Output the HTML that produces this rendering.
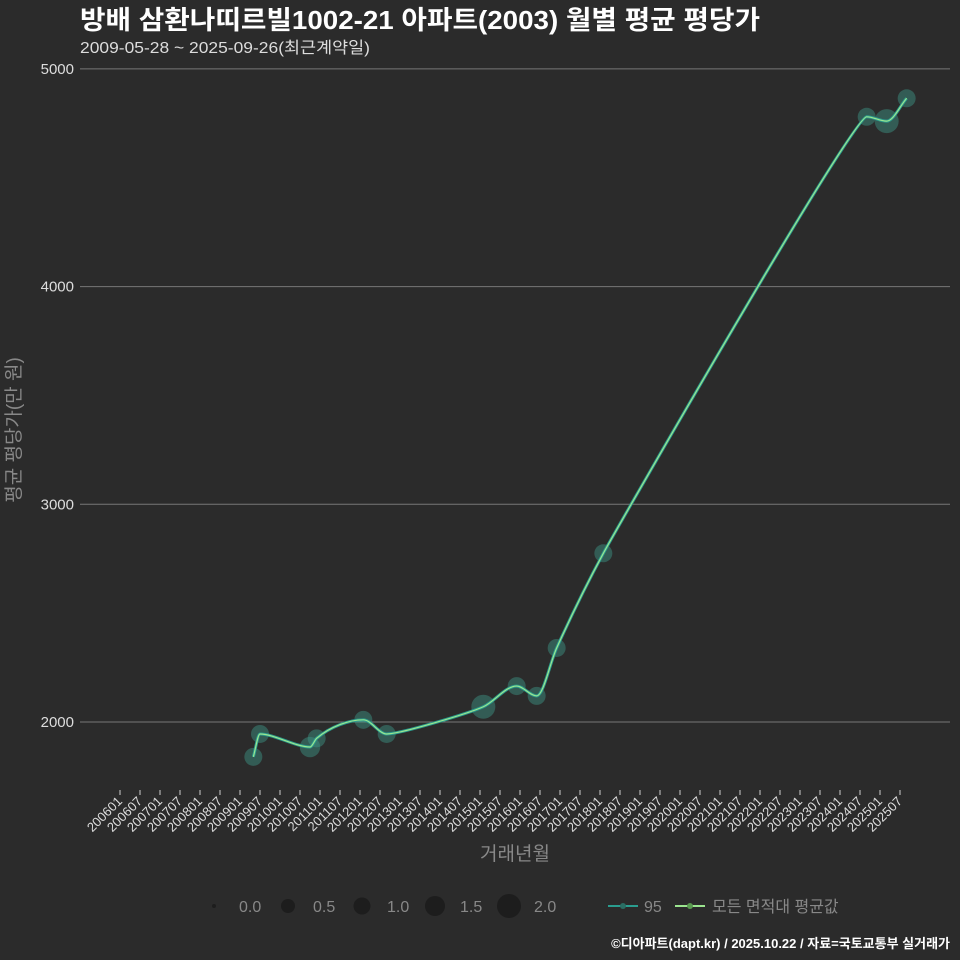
<!DOCTYPE html>
<html><head><meta charset="utf-8">
<style>
body{margin:0;background:#2b2b2b;}
svg{display:block;font-family:"Liberation Sans","Noto Sans CJK KR",sans-serif;}
</style></head>
<body>
<svg id="chart" width="960" height="960" viewBox="0 0 960 960">
<rect width="960" height="960" fill="#2b2b2b"/>
<text x="80" y="29" fill="#ffffff" font-size="26" font-weight="bold" textLength="680" lengthAdjust="spacingAndGlyphs">방배 삼환나띠르빌1002-21 아파트(2003) 월별 평균 평당가</text>
<text x="80" y="53" fill="#dddddd" font-size="16" textLength="290" lengthAdjust="spacingAndGlyphs">2009-05-28 ~ 2025-09-26(최근계약일)</text>
<g id="grid"></g>
<g id="xaxis"></g>
<g id="marks"></g>
<text x="20" y="430" fill="#888" font-size="19" transform="rotate(-90 20 430)" text-anchor="middle">평균 평당가(만 원)</text>
<text x="515" y="860" fill="#888" font-size="19" text-anchor="middle">거래년월</text>
<g id="legend"></g>
<text x="950" y="948" fill="#ffffff" font-size="13" font-weight="bold" text-anchor="end">©디아파트(dapt.kr) / 2025.10.22 / 자료=국토교통부 실거래가</text>
</svg>
<script>
const months = [40, 42, 57, 59, 73, 80, 109, 119, 125, 131, 145, 224, 230, 236];
const prices = [1840, 1945, 1885, 1925, 2010, 1945, 2070, 2165, 2120, 2340, 2775, 4780, 4760, 4865];
const counts = [1.0, 1.0, 1.2, 1.0, 1.0, 1.0, 1.5, 1.0, 1.0, 1.0, 1.0, 1.0, 1.5, 1.0];
const yTicks = [2000, 3000, 4000, 5000];
const xTickLabels = [];
for (let y = 2006; y <= 2025; y++) { xTickLabels.push(y + "01"); xTickLabels.push(y + "07"); }

const NS = "http://www.w3.org/2000/svg";
function X(m){ return 120 + m * 20 / 6; }
function Y(v){ return 722 - (v - 2000) * 217.7 / 1000; }
function R(c){ return 3 + c * 6; }
function mk(tag, attrs, parent){ const e = document.createElementNS(NS, tag); for (const k in attrs) e.setAttribute(k, attrs[k]); parent.appendChild(e); return e; }

const grid = document.getElementById("grid");
yTicks.forEach(v => {
  const l = mk("line", {x1:80, x2:950, y1:Y(v), y2:Y(v), stroke:"#777", "stroke-width":1}, grid);
  
  
  const t = mk("text", {x:74, y:Y(v)+5, fill:"#ddd", "font-size":15, "text-anchor":"end"}, grid);
  t.textContent = v;
  
  
});

const xa = document.getElementById("xaxis");
xTickLabels.forEach((s, i) => {
  const m = (parseInt(s.slice(0,4)) - 2006) * 12 + parseInt(s.slice(4)) - 1;
  const x = X(m);
  const tk = mk("line", {x1:x, x2:x, y1:790, y2:795, stroke:"#ccc", "stroke-width":1}, xa);
  
  
  const t = mk("text", {x:x+3, y:802, fill:"#ddd", "font-size":13, "text-anchor":"end", transform:`rotate(-45 ${x+3} 802)`}, xa);
  t.textContent = s;
  
  
});

const marks = document.getElementById("marks");
months.forEach((m, i) => {
  const c = mk("circle", {cx:X(m), cy:Y(prices[i]), r:R(counts[i]), fill:"#3f9a8a", "fill-opacity":0.45}, marks);
  
  
});
// monotone cubic with capped control-point distance
const pts = months.map((m, i) => [X(m), Y(prices[i])]);
const n = pts.length;
const dx = [], sl = [];
for (let i = 0; i < n-1; i++) { dx.push(pts[i+1][0]-pts[i][0]); sl.push((pts[i+1][1]-pts[i][1])/dx[i]); }
const tg = [sl[0]];
for (let i = 1; i < n-1; i++) tg.push(sl[i-1]*sl[i] <= 0 ? 0 : (sl[i-1]+sl[i])/2);
tg.push(sl[n-2]);
for (let i = 0; i < n-1; i++) {
  if (sl[i] === 0) { tg[i] = 0; tg[i+1] = 0; continue; }
  const a = tg[i]/sl[i], b = tg[i+1]/sl[i], h = a*a + b*b;
  if (h > 9) { const t = 3/Math.sqrt(h); tg[i] = t*a*sl[i]; tg[i+1] = t*b*sl[i]; }
}
let d = `M${pts[0][0]},${pts[0][1]}`;
for (let i = 0; i < n-1; i++) {
  const h = Math.min(dx[i]/3, 14);
  d += ` C${pts[i][0]+h},${pts[i][1]+tg[i]*h} ${pts[i+1][0]-h},${pts[i+1][1]-tg[i+1]*h} ${pts[i+1][0]},${pts[i+1][1]}`;
}
const l1 = mk("path", {d, fill:"none", stroke:"#2a9d8f", "stroke-width":3}, marks);


const l2 = mk("path", {d, fill:"none", stroke:"#9be58f", "stroke-width":1.2}, marks);



const lg = document.getElementById("legend");
const sizeVals = [0.0, 0.5, 1.0, 1.5, 2.0];
const sizeX = [214, 288, 362, 435, 509];
const legendR = [2, 7, 8.5, 10, 12];
sizeVals.forEach((v, i) => {
  const c = mk("circle", {cx:sizeX[i], cy:906, r:legendR[i], fill:"#1d1d1d"}, lg);
  
  
  const t = mk("text", {x:sizeX[i]+25, y:912, fill:"#888", "font-size":16}, lg);
  t.textContent = v.toFixed(1);
  
  
});
const ln1 = mk("line", {x1:608, x2:638, y1:906, y2:906, stroke:"#2a9d8f", "stroke-width":2}, lg);


mk("circle", {cx:623, cy:906, r:3, fill:"#2a6e64"}, lg);
const t1 = mk("text", {x:644, y:912, fill:"#888", "font-size":16}, lg); t1.textContent = "95";


const ln2 = mk("line", {x1:675, x2:705, y1:906, y2:906, stroke:"#9be58f", "stroke-width":2}, lg);


mk("circle", {cx:690, cy:906, r:3, fill:"#5a9a50"}, lg);
const t2 = mk("text", {x:712, y:912, fill:"#888", "font-size":16}, lg); t2.textContent = "모든 면적대 평균값";


</script>
</body></html>
